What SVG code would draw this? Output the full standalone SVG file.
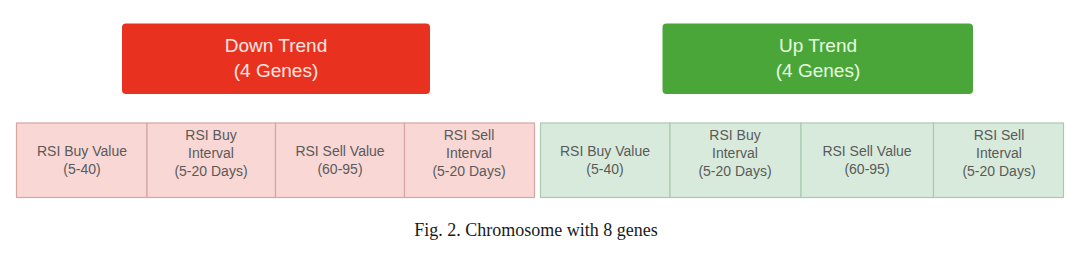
<svg xmlns="http://www.w3.org/2000/svg" width="1080" height="259" viewBox="0 0 1080 259">
<style>
.hdr{font-family:"Liberation Sans",Arial,sans-serif;font-size:19px;text-anchor:middle}
.cell{font-family:"Liberation Sans",Arial,sans-serif;font-size:14px;fill:#5a5a5a;text-anchor:middle}
.rc{fill:#f8d7d5;stroke:#d6a6a3;stroke-width:1.2}
.gc{fill:#d8eadc;stroke:#abc8b1;stroke-width:1.2}
.cap{font-family:"Liberation Serif","Times New Roman",serif;font-size:18px;fill:#1a1a1a;text-anchor:middle}
</style>
<rect width="1080" height="259" fill="#ffffff"/>
<g id="down-trend">
<rect x="122" y="23.5" width="308" height="70.5" rx="4" fill="#e8321f"/>
<text class="hdr" x="276" y="52" fill="#ffe6e2">Down Trend</text>
<text class="hdr" x="276" y="77" fill="#ffe6e2">(4 Genes)</text>
</g>
<g id="up-trend">
<rect x="662.5" y="23.5" width="310.5" height="70.5" rx="4" fill="#4ba63a"/>
<text class="hdr" x="818" y="52" fill="#e6fbe0">Up Trend</text>
<text class="hdr" x="818" y="77" fill="#e6fbe0">(4 Genes)</text>
</g>
<g id="down-genes">
<g id="d1"><rect class="rc" x="16.5" y="123" width="130.5" height="74.5"/>
<text class="cell" x="82" y="156">RSI Buy Value</text><text class="cell" x="82" y="174">(5-40)</text></g>
<g id="d2"><rect class="rc" x="147" y="123" width="128.5" height="74.5"/>
<text class="cell" x="211" y="140">RSI Buy</text><text class="cell" x="211" y="158">Interval</text><text class="cell" x="211" y="176">(5-20 Days)</text></g>
<g id="d3"><rect class="rc" x="275.5" y="123" width="129" height="74.5"/>
<text class="cell" x="340" y="156">RSI Sell Value</text><text class="cell" x="340" y="174">(60-95)</text></g>
<g id="d4"><rect class="rc" x="404.5" y="123" width="130" height="74.5"/>
<text class="cell" x="469" y="140">RSI Sell</text><text class="cell" x="469" y="158">Interval</text><text class="cell" x="469" y="176">(5-20 Days)</text></g>
</g>
<g id="up-genes">
<g id="u1"><rect class="gc" x="540.5" y="123" width="129.5" height="74.5"/>
<text class="cell" x="605" y="156">RSI Buy Value</text><text class="cell" x="605" y="174">(5-40)</text></g>
<g id="u2"><rect class="gc" x="670" y="123" width="131" height="74.5"/>
<text class="cell" x="735" y="140">RSI Buy</text><text class="cell" x="735" y="158">Interval</text><text class="cell" x="735" y="176">(5-20 Days)</text></g>
<g id="u3"><rect class="gc" x="801" y="123" width="132.5" height="74.5"/>
<text class="cell" x="867" y="156">RSI Sell Value</text><text class="cell" x="867" y="174">(60-95)</text></g>
<g id="u4"><rect class="gc" x="933.5" y="123" width="130" height="74.5"/>
<text class="cell" x="999" y="140">RSI Sell</text><text class="cell" x="999" y="158">Interval</text><text class="cell" x="999" y="176">(5-20 Days)</text></g>
</g>
<g id="connectors"></g>
<text class="cap" x="536" y="236">Fig. 2. Chromosome with 8 genes</text>
</svg>
